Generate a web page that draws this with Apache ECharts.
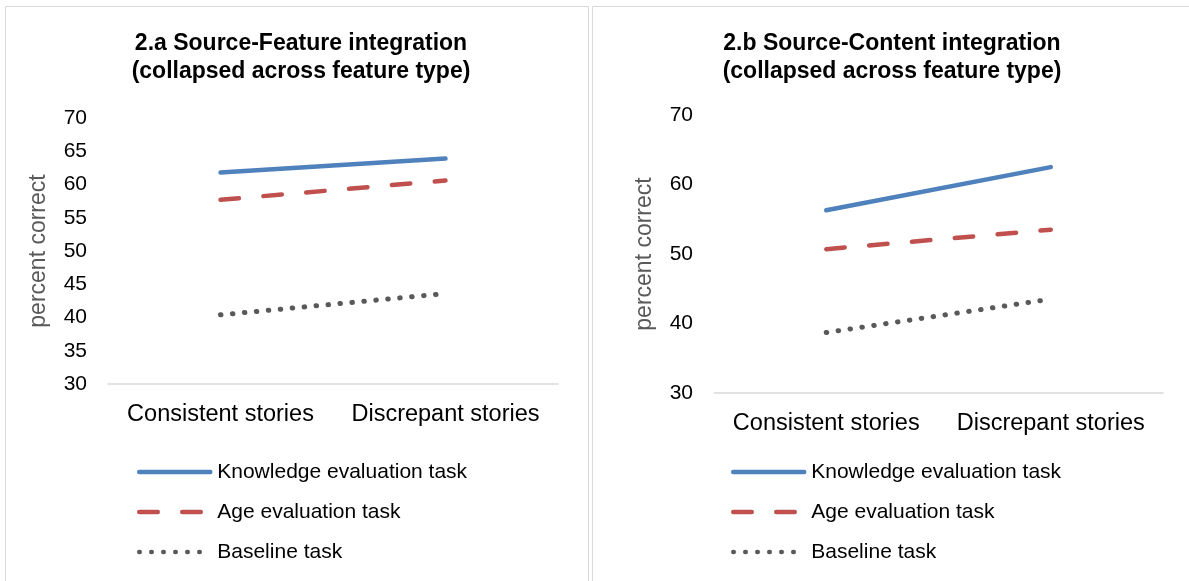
<!DOCTYPE html>
<html style="height: 100%">
<head>
<meta charset="utf-8">
<script type="text/javascript" src="https://cdn.jsdelivr.net/npm/echarts/dist/echarts.min.js"></script>
<style type="text/css">
    body { margin: 0; background: #fff; }
    #container { width: 1189px; height: 581px; }
</style>
</head>
<body>
<div id="container"></div>
<script type="text/javascript">
    // data
    var categories = ['Consistent stories', 'Discrepant stories'];
    var seriesNames = ['Knowledge evaluation task', 'Age evaluation task', 'Baseline task'];

    // 2.a Source-Feature integration
    var featKnowledge = [61.8, 63.9];
    var featAge = [57.7, 60.6];
    var featBaseline = [40.4, 43.6];

    // 2.b Source-Content integration
    var contKnowledge = [56.3, 62.5];
    var contAge = [50.7, 53.5];
    var contBaseline = [38.7, 43.5];

    var titleA = '2.a Source-Feature integration\n(collapsed across feature type)';
    var titleB = '2.b Source-Content integration\n(collapsed across feature type)';

    var font = "'Liberation Sans', Arial, sans-serif";
    var colors = ['#4F81BD', '#C0504D', '#595959'];
    var lineTypes = ['solid', [18.5, 24.5], [0.5, 11.5]];
    var lineWidths = [4.5, 4.5, 5];

    var dom = document.getElementById('container');
    var myChart = echarts.init(dom);

    function xAxisFor(idx) {
        return {
            type: 'category',
            gridIndex: idx,
            data: categories,
            boundaryGap: true,
            axisTick: { show: false },
            axisLine: { lineStyle: { color: '#D9D9D9', width: 1.5 } },
            axisLabel: { color: '#000', fontSize: 23.5, fontFamily: font, margin: 19, interval: 0 }
        };
    }
    function yAxisFor(idx, step) {
        return {
            type: 'value',
            gridIndex: idx,
            min: 30, max: 70, interval: step,
            axisLine: { show: false },
            axisTick: { show: false },
            splitLine: { show: false },
            axisLabel: { color: '#000', fontSize: 21, fontFamily: font, margin: 21 },
            name: 'percent correct',
            nameLocation: 'middle',
            nameGap: 58,
            nameTextStyle: { color: '#595959', fontSize: 23, fontFamily: font }
        };
    }
    function lineSeries(name, k, idx, values) {
        return {
            name: name,
            type: 'line',
            xAxisIndex: idx,
            yAxisIndex: idx,
            data: values,
            symbol: 'none',
            lineStyle: { color: colors[k], width: lineWidths[k], type: lineTypes[k], cap: 'round' },
            itemStyle: { color: colors[k] }
        };
    }
    function legendAt(x) {
        return {
            orient: 'vertical',
            left: x,
            top: 455,
            itemWidth: 71,
            itemHeight: 24,
            itemGap: 16,
            data: seriesNames,
            selectedMode: false,
            lineStyle: { width: 4.5, cap: 'round' },
            itemStyle: { color: 'transparent', borderWidth: 0, opacity: 0 },
            textStyle: { color: '#000', fontSize: 21, lineHeight: 24, fontFamily: font, padding: [0, 0, 0, 2] }
        };
    }

    var option = {
        backgroundColor: '#fff',
        animation: false,
        graphic: [
            { type: 'rect', shape: { x: 5.5, y: 6.5, width: 583, height: 600 },
              style: { fill: 'none', stroke: '#D9D9D9', lineWidth: 1 }, silent: true },
            { type: 'rect', shape: { x: 592.5, y: 6.5, width: 620, height: 600 },
              style: { fill: 'none', stroke: '#D9D9D9', lineWidth: 1 }, silent: true }
        ],
        title: [
            { text: titleA, left: 296, top: 25, textAlign: 'center',
              textStyle: { fontSize: 23, fontWeight: 'bold', color: '#000', fontFamily: font, lineHeight: 28 } },
            { text: titleB, left: 887, top: 25, textAlign: 'center',
              textStyle: { fontSize: 23, fontWeight: 'bold', color: '#000', fontFamily: font, lineHeight: 28 } }
        ],
        legend: [legendAt(132), legendAt(726)],
        grid: [
            { left: 108, right: 631, top: 118, bottom: 197 },
            { left: 714, right: 26, top: 115, bottom: 188 }
        ],
        xAxis: [xAxisFor(0), xAxisFor(1)],
        yAxis: [yAxisFor(0, 5), yAxisFor(1, 10)],
        series: [
            lineSeries(seriesNames[0], 0, 0, featKnowledge),
            lineSeries(seriesNames[1], 1, 0, featAge),
            lineSeries(seriesNames[2], 2, 0, featBaseline),
            lineSeries(seriesNames[0], 0, 1, contKnowledge),
            lineSeries(seriesNames[1], 1, 1, contAge),
            lineSeries(seriesNames[2], 2, 1, contBaseline)
        ]
    };
    myChart.setOption(option);
</script>
</body>
</html>
